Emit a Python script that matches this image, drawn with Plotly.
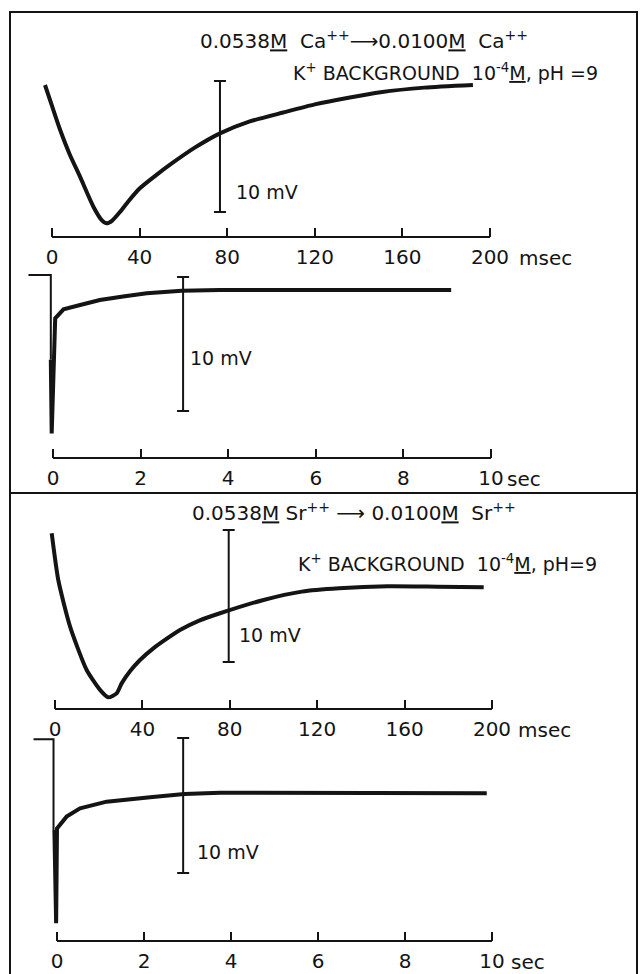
import plotly.graph_objects as go

W, H = 640, 974
FONT = "DejaVu Sans"
INK = "#141414"
NB = "\u00a0"

# ---------------- data ----------------
ms_ticks = [0, 40, 80, 120, 160, 200]
sec_ticks = [0, 2, 4, 6, 8, 10]

# Ca++ fast sweep (msec, mV relative to final level)
ca_fast_t = [-3.2, 0.0, 3.65, 8.0, 12.8, 18.9, 22.7, 25.0, 27.5, 31.0, 35.0, 40.0, 47.0,
             55.0, 65.0, 76.7, 90.0, 105.6, 120.0, 136.0, 150.0, 170.0, 192.2]
ca_fast_mv = [0.0, -1.6, -3.4, -5.26, -7.0, -9.29, -10.31, -10.56, -10.35, -9.7, -8.85, -7.9,
              -6.95, -5.95, -4.8, -3.69, -2.8, -2.1, -1.48, -0.95, -0.55, -0.2, 0.0]

# Ca++ slow sweep (sec)
ca_step_t = [-0.56, -0.05, -0.05]
ca_step_mv = [1.12, 1.12, -5.2]
ca_slow_t = [-0.05, -0.03, 0.05, 0.24, 0.62, 1.07, 1.6, 2.14, 2.94, 3.81, 6.0, 9.09]
ca_slow_mv = [-5.2, -10.7, -2.11, -1.44, -1.12, -0.75, -0.48, -0.25, -0.05, 0.0, 0.0, 0.0]

# Sr++ fast sweep (msec)
sr_fast_t = [-1.5, 1.5, 6.9, 14.5, 20.6, 24.4, 28.2, 30.5, 34.5, 38.9, 45.0, 50.0, 57.2,
             66.0, 75.5, 95.0, 113.0, 130.0, 152.3, 175.0, 196.2]
sr_fast_mv = [4.07, 0.53, -3.0, -6.29, -7.79, -8.36, -8.06, -7.30, -6.35, -5.53, -4.65, -4.05,
              -3.26, -2.55, -1.99, -1.0, -0.35, -0.1, 0.05, 0.02, -0.02]

# Sr++ slow sweep (sec)
sr_step_t = [-0.54, -0.08, -0.08]
sr_step_mv = [3.98, 3.98, -2.74]
sr_slow_t = [-0.06, -0.02, 0.0, 0.22, 0.53, 1.14, 2.14, 2.93, 3.75, 6.0, 9.88]
sr_slow_mv = [-2.74, -9.65, -2.62, -1.75, -1.14, -0.64, -0.32, -0.07, 0.02, 0.0, -0.02]

# 10 mV calibration bars: x position, bar centre (mV), label level (mV)
bar_x = [76.7, 2.97, 79.5, 2.90]
bar_mid = [-4.69, -4.03, -0.68, -0.93]
bar_len = 10
bar_label_mv = [-8.17, -5.07, -3.64, -4.37]

# ---------------- layout calibration (pixels) ----------------
# x0: pixel of t=0, kx: px per unit, y0: pixel of 0 mV, ky: px per mV, top/bot: domain
panels = [
    dict(x0=52, kx=2.19, y0=85, ky=13.1, top=13, bot=237),
    dict(x0=53, kx=43.8, y0=290, ky=13.4, top=262, bot=458),
    dict(x0=55, kx=2.185, y0=587, ky=13.2, top=495, bot=709),
    dict(x0=57, kx=43.5, y0=793, ky=13.5, top=735, bot=941),
]

fig = go.Figure()
layout = dict(
    width=W, height=H, margin=dict(l=0, r=0, t=0, b=0),
    paper_bgcolor="white", plot_bgcolor="rgba(0,0,0,0)",
    showlegend=False, font=dict(family=FONT, size=20, color=INK),
)

ticks_for = [ms_ticks, sec_ticks, ms_ticks, sec_ticks]
unit_text = ["msec", "sec", "msec", "sec"]
unit_shift = [27, 14, 24, 17]
shapes = []
annotations = []

for i, p in enumerate(panels):
    n = "" if i == 0 else str(i + 1)
    xa, ya = "x" + n, "y" + n
    xr = [(0 - p["x0"]) / p["kx"], (W - p["x0"]) / p["kx"]]
    yr = [(p["y0"] - p["bot"]) / p["ky"], (p["y0"] - p["top"]) / p["ky"]]
    tv = ticks_for[i]
    layout["xaxis" + n] = dict(
        domain=[0, 1], range=xr, anchor=ya, showgrid=False, zeroline=False,
        showline=False, ticks="inside", ticklen=9, tickwidth=2, tickcolor=INK,
        tickvals=tv, ticktext=[str(v) for v in tv], ticklabelstandoff=6,
        tickfont=dict(family=FONT, size=20, color=INK), fixedrange=True,
    )
    layout["yaxis" + n] = dict(
        domain=[1 - p["bot"] / H, 1 - p["top"] / H], range=yr, anchor=xa,
        visible=False, fixedrange=True,
    )
    # axis baseline from first to last tick
    shapes.append(dict(type="line", xref=xa, yref=ya + " domain", x0=tv[0], x1=tv[-1],
                       y0=0, y1=0, line=dict(color=INK, width=2)))
    # unit label after the last tick
    annotations.append(dict(xref=xa, yref=ya + " domain", x=tv[-1], y=0, xanchor="left",
                            yanchor="middle", xshift=unit_shift[i], yshift=-21,
                            text=unit_text[i], showarrow=False,
                            font=dict(family=FONT, size=20, color=INK)))
    # calibration bar
    fig.add_trace(go.Scatter(
        x=[bar_x[i]], y=[bar_mid[i]], xaxis=xa, yaxis=ya, mode="markers",
        marker=dict(size=1, color="rgba(0,0,0,0)"),
        error_y=dict(type="data", array=[bar_len / 2], visible=True, thickness=2,
                     width=6, color=INK),
        hoverinfo="skip",
    ))
    annotations.append(dict(xref=xa, yref=ya, x=bar_x[i], y=bar_label_mv[i],
                            xanchor="left", yanchor="middle",
                            xshift=[14, 5, 8, 12][i], text="10 mV", showarrow=False,
                            font=dict(family=FONT, size=19, color=INK)))

# traces
fig.add_trace(go.Scatter(x=ca_fast_t, y=ca_fast_mv, xaxis="x", yaxis="y", mode="lines",
                         line=dict(color=INK, width=4, shape="spline", smoothing=0.6)))
fig.add_trace(go.Scatter(x=ca_step_t, y=ca_step_mv, xaxis="x2", yaxis="y2", mode="lines",
                         line=dict(color=INK, width=2)))
fig.add_trace(go.Scatter(x=ca_slow_t, y=ca_slow_mv, xaxis="x2", yaxis="y2", mode="lines",
                         line=dict(color=INK, width=4)))
fig.add_trace(go.Scatter(x=sr_fast_t, y=sr_fast_mv, xaxis="x3", yaxis="y3", mode="lines",
                         line=dict(color=INK, width=4, shape="spline", smoothing=0.6)))
fig.add_trace(go.Scatter(x=sr_step_t, y=sr_step_mv, xaxis="x4", yaxis="y4", mode="lines",
                         line=dict(color=INK, width=2)))
fig.add_trace(go.Scatter(x=sr_slow_t, y=sr_slow_mv, xaxis="x4", yaxis="y4", mode="lines",
                         line=dict(color=INK, width=4)))

# condition texts
def txt(px, py, s, size=20):
    annotations.append(dict(xref="paper", yref="paper", x=px / W, y=1 - py / H,
                            xanchor="left", yanchor="middle", text=s, showarrow=False,
                            font=dict(family=FONT, size=size, color=INK)))

txt(198, 40, "0.0538<u>M</u>" + NB * 2 + "Ca<sup>++</sup>\u27f60.0100<u>M</u>" + NB * 2
    + "Ca<sup>++</sup>")
txt(291, 72, "K<sup>+</sup> BACKGROUND" + NB * 2 + "10<sup>-4</sup><u>M</u>, pH =9", 19)
txt(190, 512, "0.0538<u>M</u>" + NB + "Sr<sup>++</sup>" + NB + "\u27f6" + NB
    + "0.0100<u>M</u>" + NB * 2 + "Sr<sup>++</sup>")
txt(296, 563, "K<sup>+</sup> BACKGROUND" + NB * 2 + "10<sup>-4</sup><u>M</u>, pH=9", 19)

# frame
shapes.append(dict(type="rect", xref="paper", yref="paper", x0=10 / W, x1=637 / W,
                   y0=-0.01, y1=1 - 12 / H, line=dict(color=INK, width=2)))
shapes.append(dict(type="line", xref="paper", yref="paper", x0=10 / W, x1=637 / W,
                   y0=1 - 493 / H, y1=1 - 493 / H, line=dict(color=INK, width=2)))

layout["shapes"] = shapes
layout["annotations"] = annotations
fig.update_layout(**layout)
fig.write_html("out.html")
